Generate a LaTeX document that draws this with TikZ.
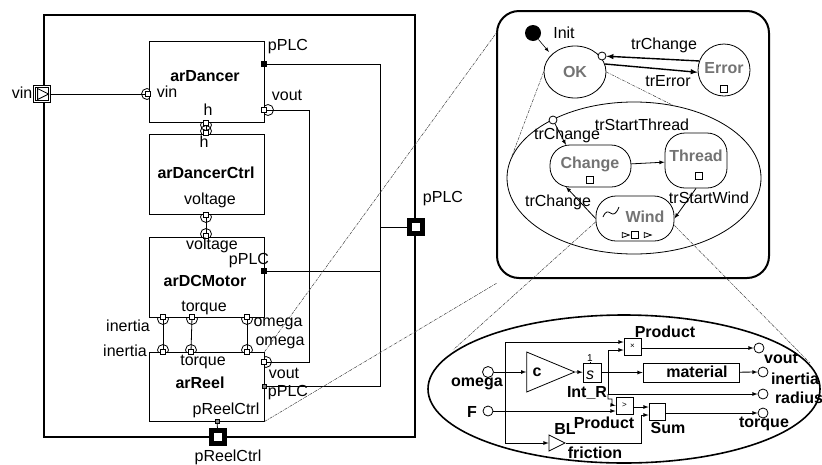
\documentclass[tikz,border=0pt]{standalone}
\usepackage{fontspec}
\setmainfont{Liberation Sans}
\usetikzlibrary{shapes.geometric}
\tikzset{
  lbl/.style={inner sep=0pt,font=\fontsize{16}{18}\selectfont},
  lblb/.style={inner sep=0pt,font=\fontsize{16}{18}\selectfont\bfseries},
  hazy/.style={inner sep=0pt,font=\fontsize{16}{18}\selectfont\bfseries,text=black!55},
  block/.style={draw,fill=white,minimum width=114.5pt,inner sep=0pt},
  port/.style={draw,fill=white,minimum size=5pt,inner sep=0pt},
  ring/.style={draw,circle,minimum size=11pt,inner sep=0pt},
  bigport/.style={draw=black,line width=5pt,fill=white,minimum size=13pt,inner sep=0pt},
  state/.style={draw,ellipse,inner sep=0pt},
  hist/.style={draw,circle,fill=white,minimum size=8pt,inner sep=0pt},
  mark box/.style={draw,minimum size=7pt,inner sep=0pt},
  zoomline/.style={densely dash dot,line width=.5pt,black!75},
  fn/.style={draw,fill=white,inner sep=0pt},
  io/.style={draw,circle,fill=white,minimum size=11pt,inner sep=0pt},
}
\begin{document}
\begin{tikzpicture}[x=1pt,y=-1pt,line width=.8pt,>=latex]
  \useasboundingbox (0,0) rectangle (822,464);
  % outer block
  \node[draw,line width=2pt,minimum width=371pt,minimum height=422pt,inner sep=0pt] (outer) at (229.5,226) {};
  % half circles behind the blocks
  \foreach \x/\y [count=\i] in {147/94,268/110,206/125,206/131,206/217,206/234,
      163/319,192/319,247/319,163/350,191/350,247/350,266/362}
    \node[ring] (ring\i) at (\x,\y) {};
  \node[block,minimum height=81pt] (arDancer) at (207,81.5) {};
  \node[block,minimum height=80pt] (arDancerCtrl) at (207,174) {};
  \node[block,minimum height=80pt] (arDCMotor) at (207,277) {};
  \node[block,minimum height=69pt] (arReel) at (207,386.5) {};
  \node[lblb] (nDancer) at (205,76) {arDancer};
  \node[lblb] (nCtrl) at (206,173) {arDancerCtrl};
  \node[lblb] (nMotor) at (205,281) {arDCMotor};
  \node[lblb] (nReel) at (200,383) {arReel};
  % ports
  \node[port] (pVin) at (148,94) {};
  \node[port,fill=black] (pPLCa) at (264,64) {};
  \node[port] (pVout) at (264,110) {};
  \node[port] (pHa) at (206,123) {};
  \node[port] (pHb) at (206,133) {};
  \node[port] (pVola) at (206,215) {};
  \node[port] (pVolb) at (206,236) {};
  \node[port,fill=black] (pPLCb) at (264,271) {};
  \node[port] (pInA) at (163,317) {};
  \node[port] (pToA) at (192,317) {};
  \node[port] (pOmA) at (247,317) {};
  \node[port] (pInB) at (163,352) {};
  \node[port] (pToB) at (191,352) {};
  \node[port] (pOmB) at (247,352) {};
  \node[port] (pOmC) at (264,362) {};
  \node[port,minimum size=4pt,fill=black!50] (pPLCc) at (264,386) {};
  \node[port,minimum size=4pt,fill=black!50] (pCtrl) at (217,421) {};
  \node[draw,fill=white,double,double distance=1.5pt,minimum size=15pt,inner sep=0pt] (vinOut) at (42,94) {};
  \node[draw,isosceles triangle,isosceles triangle stretches,minimum width=11pt,minimum height=11pt,inner sep=0pt] (vinTri) at (41,94) {};
  \node[bigport] (pPLCo) at (416,227) {};
  \node[bigport] (pCtrlo) at (218,437) {};
  \coordinate (busA) at (380,64);
  \coordinate (busB) at (380,386);
  \coordinate (busC) at (309,110);
  \coordinate (busD) at (309,362);
  \draw (vinOut) to (pVin);
  \draw (pHa) to (pHb);
  \draw (pVola) to (pVolb);
  \draw (pInA) to (pInB);
  \draw (pToA) to (pToB);
  \draw (pOmA) to (pOmB);
  \draw (pCtrl) to (pCtrlo);
  \draw (pPLCa) -- (busA) -- (busB) -- (pPLCc);
  \draw (pPLCb) -- (busA |- pPLCb);
  \draw (pPLCo) -- (busA |- pPLCo);
  \draw (pVout) -- (busC) -- (busD) -- (pOmC);
  % port labels
  \foreach \x/\y/\t [count=\i] in {22/93/vin,167/92/vin,288/47/pPLC,287/95/vout,208/110/h,204/142/h,
      210/200/voltage,212/245/voltage,249/261/pPLC,204/308/torque,128/326/inertia,125/351/inertia,
      278/324/omega,280/343/omega,203/362/torque,284/373/vout,288/393/pPLC,226/410/pReelCtrl,
      228/457/pReelCtrl,443/199/pPLC}
    \node[lbl] (lab\i) at (\x,\y) {\t};
  % state chart
  \node[draw,line width=2pt,rounded corners=22pt,minimum width=272pt,minimum height=267pt,inner sep=0pt] (chart) at (633,144.5) {};
  \node[circle,fill=black,minimum size=16pt,inner sep=0pt] (init) at (533,33) {};
  \node[lbl] (initL) at (564,33) {Init};
  \node[state,minimum width=62pt,minimum height=52pt,hazy] (OK) at (575,72) {OK};
  \node[state,minimum width=52pt,minimum height=52pt] (Error) at (724,70) {};
  \node[hazy] (nError) at (724,68) {Error};
  \node[mark box] (mError) at (724,89) {};
  \node[hist] (hOK) at (602,56) {};
  \node[state,minimum width=254pt,minimum height=152pt] (Run) at (634,178) {};
  \node[hist] (hRun) at (553,120) {};
  \node[draw,rounded corners=20pt,minimum width=81pt,minimum height=42pt,inner sep=0pt] (Change) at (590.5,166) {};
  \node[hazy] (nChange) at (590,164) {Change};
  \node[mark box] (mChange) at (590,180) {};
  \node[draw,rounded corners=20pt,minimum width=62pt,minimum height=55pt,inner sep=0pt] (Thread) at (696,160.5) {};
  \node[hazy] (nThread) at (696,156) {Thread};
  \node[mark box] (mThread) at (699,176) {};
  \node[draw,rounded corners=20pt,minimum width=78pt,minimum height=45pt,inner sep=0pt] (Wind) at (635,218.5) {};
  \node[hazy] (nWind) at (645,217) {Wind};
  \node[mark box] (mWind) at (635,235) {};
  \node[draw,isosceles triangle,isosceles triangle stretches,minimum width=5pt,minimum height=7pt,inner sep=0pt] (triWa) at (624,235) {};
  \node[draw,isosceles triangle,isosceles triangle stretches,minimum width=5pt,minimum height=7pt,inner sep=0pt] (triWb) at (646,235) {};
  \draw (603,217) .. controls (609,203) and (612,224) .. (619,207);
  \coordinate (chTop) at (566,145);
  \coordinate (chLow) at (566,187);
  \coordinate (okIn) at (549,52);
  \draw[->,line width=.6pt] (init) to (okIn);
  \draw[->,line width=1.4pt] (Error.160) to (hOK);
  \draw[->,line width=1.4pt] (OK.15) to (Error.185);
  \draw[->] (hRun) to (chTop);
  \draw[->] (Change) to (Thread);
  \draw[->] (Thread.south) to (Wind.east);
  \draw[->] (Wind.west) to (chLow);
  \foreach \x/\y/\t [count=\i] in {664/45/trChange,668/81/trError,642/125/trStartThread,567/135/trChange,
      558/202/trChange,709/198/trStartWind}
    \node[lbl] (tr\i) at (\x,\y) {\t};
  % zoom lines
  \coordinate (chartA) at (497,32);
  \coordinate (chartB) at (497,283);
  \coordinate (sysA) at (453,350);
  \coordinate (sysB) at (810,363);
  \draw[zoomline] (arReel.north east) to (chartA);
  \draw[zoomline] (arReel.south east) to (chartB);
  \draw[zoomline] (OK.west) to (Run.170);
  \draw[zoomline] (OK.east) to (Run.62);
  \draw[zoomline] (Wind.185) to (sysA);
  \draw[zoomline] (Wind.-10) to (sysB);
  % block diagram
  \node[state,line width=1.6pt,minimum width=392pt,minimum height=148pt] (Sys) at (624,389) {};
  \node[io] (omega) at (488,372) {};
  \node[io,minimum size=10pt] (F) at (488,411) {};
  \node[fn,isosceles triangle,isosceles triangle stretches,minimum width=40pt,minimum height=48pt] (gain) at (540,372) {};
  \node[lblb] (gainL) at (537,372) {c};
  \node[fn,minimum width=18pt,minimum height=19pt] (IntR) at (592,372.5) {};
  \node[lbl,font=\fontsize{16}{18}\selectfont\itshape] (intS) at (590,375) {s};
  \node[lbl,font=\fontsize{10}{12}\selectfont] (intO) at (590,358) {1};
  \node[fn,minimum width=17pt,minimum height=17pt,font=\fontsize{8}{8}\selectfont] (ProdA) at (632.5,346.5) {×};
  \node[fn,minimum width=96pt,minimum height=19pt] (material) at (691,372.5) {};
  \node[fn,minimum width=17pt,minimum height=17pt,font=\fontsize{8}{8}\selectfont] (ProdB) at (624.5,405.5) {>};
  \node[fn,minimum width=16pt,minimum height=17pt] (Sum) at (657,411.5) {};
  \node[fn,isosceles triangle,isosceles triangle stretches,minimum width=16pt,minimum height=16pt] (BL) at (554,443) {};
  \node[io,minimum size=10pt] (vout) at (759,348) {};
  \node[io,minimum size=10pt] (inertia) at (763,372) {};
  \node[io,minimum size=10pt] (radius) at (763,394) {};
  \node[io,minimum size=10pt] (torque) at (763,413) {};
  \coordinate (omJ) at (505,372);
  \coordinate (intJ) at (608,372);
  \coordinate (radJ) at (608,394);
  \draw[->] (omega) to (gain.west |- omega);
  \draw[->] (omJ) |- (ProdA.west |- 0,342);
  \draw[->] (omJ) |- (BL);
  \draw[->] (gain.apex) to (IntR);
  \draw[->] (IntR) to (material);
  \draw[->] (intJ) |- (ProdA.west |- 0,350);
  \draw[->] (intJ) -- (radJ) -- (radius);
  \draw[->] (radJ) -- (608,399) -- (612,399) -- (612,405) -- (ProdB.west);
  \draw[->] (F) to (ProdB.west |- F);
  \draw[->] (ProdA.east |- vout) to (vout);
  \draw[->] (material) to (inertia);
  \draw[->] (ProdB.east |- 0,407) to (Sum.west |- 0,407);
  \draw[->] (BL.apex) -- (641,443) -- (641,415) -- (Sum.west |- 0,415);
  \draw[->] (Sum.east |- torque) to (torque);
  \draw (IntR.north -| intO) to (intO);
  \foreach \x/\y/\t [count=\i] in {477/384/omega,472/412/F,587/393/Int\_R,665/332/Product,697/372/material,
      604/423/Product,668/428/Sum,565/429/BL,595/453/friction,781/358/vout,795/379/inertia,
      799/398/radius,764/424/torque}
    \node[lblb] (sys\i) at (\x,\y) {\t};
\end{tikzpicture}
\end{document}
